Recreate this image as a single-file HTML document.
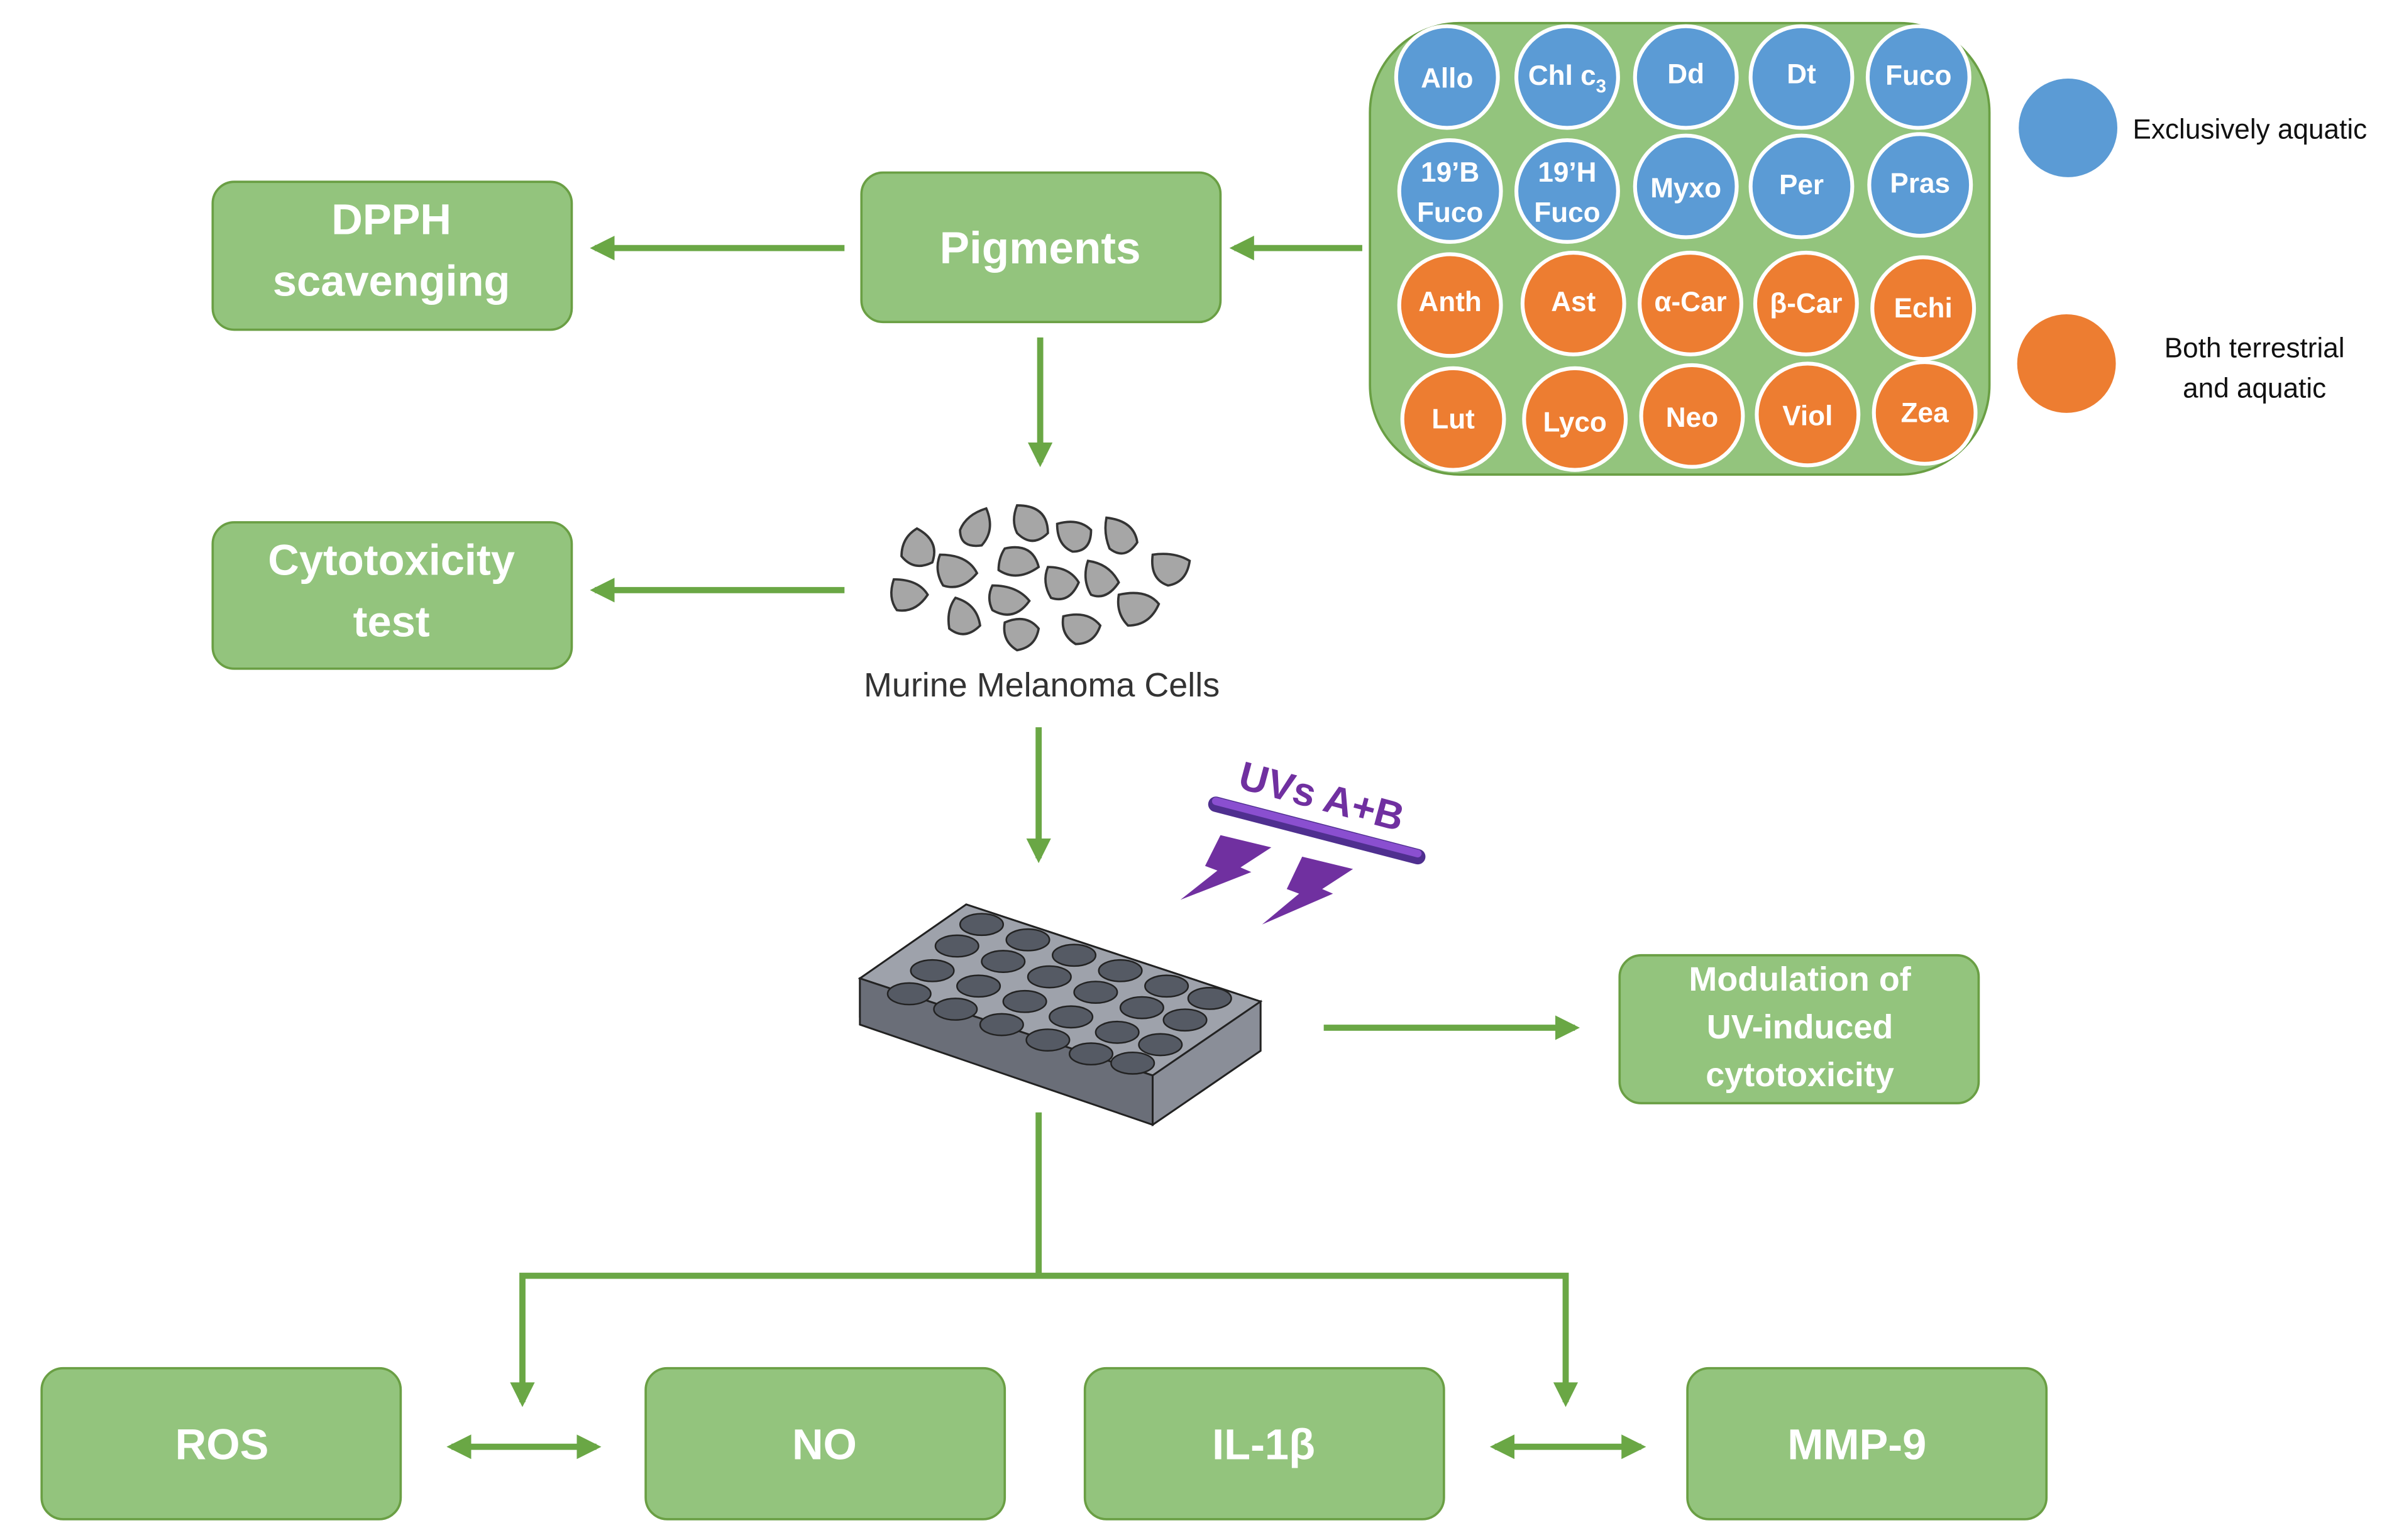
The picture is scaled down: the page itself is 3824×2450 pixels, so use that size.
<!DOCTYPE html>
<html><head><meta charset="utf-8"><style>
html,body{margin:0;padding:0;background:#fff;width:3824px;height:2450px;overflow:hidden}
svg{display:block}
text{font-family:"Liberation Sans","DejaVu Sans",sans-serif}
</style></head><body>
<svg width="3824" height="2450" viewBox="0 0 1560 999.5" xmlns="http://www.w3.org/2000/svg">
<defs>
<marker id="ah" viewBox="0 0 10 10" refX="8" refY="5" markerWidth="4" markerHeight="4" orient="auto-start-reverse"><path d="M0,0 L10,5 L0,10 z" fill="#6aa745"/></marker>
</defs>
<g fill="#93c47d" stroke="#6a9f44" stroke-width="1.5">
<rect x="138" y="118" width="233" height="96" rx="14"/>
<rect x="559" y="112" width="233" height="97" rx="14"/>
<rect x="138" y="339" width="233" height="95" rx="14"/>
<rect x="1051" y="620" width="233" height="96" rx="14"/>
<rect x="27" y="888" width="233" height="98" rx="14"/>
<rect x="419" y="888" width="233" height="98" rx="14"/>
<rect x="704" y="888" width="233" height="98" rx="14"/>
<rect x="1095" y="888" width="233" height="98" rx="14"/>
<rect x="889" y="15" width="402" height="293" rx="58"/>
</g>
<g fill="#fff" font-weight="bold" text-anchor="middle">
<text x="254" y="152" font-size="28">DPPH</text>
<text x="254" y="192" font-size="28">scavenging</text>
<text x="675" y="171" font-size="29">Pigments</text>
<text x="254" y="373" font-size="28">Cytotoxicity</text>
<text x="254" y="413" font-size="28">test</text>
<text x="1168" y="643" font-size="22">Modulation of</text>
<text x="1168" y="674" font-size="22">UV-induced</text>
<text x="1168" y="705" font-size="22">cytotoxicity</text>
<text x="144" y="947" font-size="28">ROS</text>
<text x="535" y="947" font-size="28">NO</text>
<text x="820" y="947" font-size="28">IL-1β</text>
<text x="1205" y="947" font-size="28">MMP-9</text>
</g>
<g stroke="#fff" stroke-width="2.5">
<g fill="#5b9bd5">
<circle cx="939" cy="50" r="33"/><circle cx="1017" cy="50" r="33"/><circle cx="1094" cy="50" r="33"/><circle cx="1169" cy="50" r="33"/><circle cx="1245" cy="50" r="33"/>
<circle cx="941" cy="124" r="33"/><circle cx="1017" cy="124" r="33"/><circle cx="1094" cy="121" r="33"/><circle cx="1169" cy="121" r="33"/><circle cx="1246" cy="120" r="33"/>
</g>
<g fill="#ed7d31">
<circle cx="941" cy="198" r="33"/><circle cx="1021" cy="197" r="33"/><circle cx="1097" cy="197" r="33"/><circle cx="1172" cy="197" r="33"/><circle cx="1248" cy="200" r="33"/>
<circle cx="943" cy="272" r="33"/><circle cx="1022" cy="272" r="33"/><circle cx="1098" cy="270" r="33"/><circle cx="1173" cy="269" r="33"/><circle cx="1249" cy="268" r="33"/>
</g>
</g>
<g fill="#fff" font-weight="bold" text-anchor="middle" font-size="18">
<text x="939" y="57">Allo</text><text x="1017" y="55">Chl c<tspan font-size="12" dy="5">3</tspan></text><text x="1094" y="54">Dd</text><text x="1169" y="54">Dt</text><text x="1245" y="55">Fuco</text>
<text x="941" y="118">19’B</text><text x="941" y="144">Fuco</text><text x="1017" y="118">19’H</text><text x="1017" y="144">Fuco</text>
<text x="1094" y="128">Myxo</text><text x="1169" y="126">Per</text><text x="1246" y="125">Pras</text>
<text x="941" y="202">Anth</text><text x="1021" y="202">Ast</text><text x="1097" y="202">α-Car</text><text x="1172" y="203">β-Car</text><text x="1248" y="206">Echi</text>
<text x="943" y="278">Lut</text><text x="1022" y="280">Lyco</text><text x="1098" y="277">Neo</text><text x="1173" y="276">Viol</text><text x="1249" y="274">Zea</text>
</g>
<circle cx="1342" cy="83" r="32" fill="#5b9bd5"/>
<circle cx="1341" cy="236" r="32" fill="#ed7d31"/>
<g font-size="18" fill="#111">
<text x="1384" y="90">Exclusively aquatic</text>
<text x="1463" y="232" text-anchor="middle">Both terrestrial</text>
<text x="1463" y="258" text-anchor="middle">and aquatic</text>
</g>
<g stroke="#6aa745" stroke-width="4" fill="none">
<line x1="548" y1="161" x2="386" y2="161" marker-end="url(#ah)"/>
<line x1="884" y1="161" x2="801" y2="161" marker-end="url(#ah)"/>
<line x1="675" y1="219" x2="675" y2="300" marker-end="url(#ah)"/>
<line x1="548" y1="383" x2="386" y2="383" marker-end="url(#ah)"/>
<line x1="674" y1="472" x2="674" y2="557" marker-end="url(#ah)"/>
<line x1="859" y1="667" x2="1022" y2="667" marker-end="url(#ah)"/>
<polyline points="674,722 674,828"/>
<polyline points="339,910 339,828 1016,828 1016,910" marker-start="url(#ah)" marker-end="url(#ah)"/>
<line x1="293" y1="939" x2="387" y2="939" marker-start="url(#ah)" marker-end="url(#ah)"/>
<line x1="970" y1="939" x2="1065" y2="939" marker-start="url(#ah)" marker-end="url(#ah)"/>
</g>
<g fill="#a6a6a6" stroke="#333" stroke-width="1.5">
<path d="M595,343 q15,8 10,22 q-12,6 -20,-4 q0,-12 10,-18z"/>
<path d="M640,330 q6,14 -3,24 q-14,2 -14,-10 q4,-10 17,-14z"/>
<path d="M660,328 q20,0 20,18 q-10,10 -20,0 q-4,-8 0,-18z"/>
<path d="M686,340 q14,-4 22,4 q0,14 -12,14 q-10,-4 -10,-18z"/>
<path d="M718,336 q18,2 20,16 q-8,12 -18,4 q-4,-10 -2,-20z"/>
<path d="M610,360 q18,0 24,12 q-10,12 -22,8 q-6,-10 -2,-20z"/>
<path d="M652,356 q18,-4 22,12 q-14,10 -26,2 q0,-8 4,-14z"/>
<path d="M680,368 q14,0 20,10 q-6,14 -18,10 q-6,-10 -2,-20z"/>
<path d="M706,364 q14,2 20,14 q-8,12 -18,8 q-6,-10 -2,-22z"/>
<path d="M748,360 q14,-2 24,4 q-2,14 -14,16 q-12,-4 -10,-20z"/>
<path d="M580,376 q16,0 22,10 q-8,12 -20,10 q-6,-8 -2,-20z"/>
<path d="M644,380 q16,0 24,10 q-10,14 -24,6 q-4,-8 0,-16z"/>
<path d="M620,388 q14,4 16,18 q-10,10 -20,2 q-2,-12 4,-20z"/>
<path d="M726,386 q18,-4 26,6 q-6,14 -20,14 q-8,-8 -6,-20z"/>
<path d="M652,404 q14,-6 22,4 q-2,12 -14,14 q-10,-6 -8,-18z"/>
<path d="M690,400 q16,-4 24,6 q-4,12 -16,12 q-10,-6 -8,-18z"/>
</g>
<text x="676" y="452" font-size="22" text-anchor="middle" fill="#333">Murine Melanoma Cells</text>
<g transform="rotate(15 855 515)"><text x="858" y="525" font-size="26" font-weight="bold" fill="#7030a0" text-anchor="middle">UVs A+B</text></g>
<line x1="789" y1="522" x2="920" y2="556" stroke="#4f2f8f" stroke-width="10" stroke-linecap="round"/>
<line x1="789" y1="520" x2="920" y2="554" stroke="#8a4fd0" stroke-width="5" stroke-linecap="round"/>
<path d="M792,542 L825,550 L805,563 L812,566 L766,584 L790,565 L782,562z" fill="#7030a0"/>
<path d="M845,556 L878,564 L858,577 L865,580 L819,600 L843,580 L835,577z" fill="#7030a0"/>
<g stroke="#222" stroke-width="1.2">
<path d="M558,660 L748,730 L818,682 L818,650 L627,587 L558,635z" fill="#7b7f8a"/>
<path d="M558,635 L627,587 L818,650 L748,698z" fill="#9ea2ab"/>
<path d="M558,635 L748,698 L748,730 L558,665z" fill="#6a6e78"/>
<path d="M748,698 L818,650 L818,682 L748,730z" fill="#8a8e98"/>
</g>
<g fill="#555a64" stroke="#222" stroke-width="1">
<ellipse cx="637" cy="600" rx="14" ry="7"/><ellipse cx="667" cy="610" rx="14" ry="7"/><ellipse cx="697" cy="620" rx="14" ry="7"/><ellipse cx="727" cy="630" rx="14" ry="7"/><ellipse cx="757" cy="640" rx="14" ry="7"/><ellipse cx="785" cy="648" rx="14" ry="7"/>
<ellipse cx="621" cy="614" rx="14" ry="7"/><ellipse cx="651" cy="624" rx="14" ry="7"/><ellipse cx="681" cy="634" rx="14" ry="7"/><ellipse cx="711" cy="644" rx="14" ry="7"/><ellipse cx="741" cy="654" rx="14" ry="7"/><ellipse cx="769" cy="662" rx="14" ry="7"/>
<ellipse cx="605" cy="630" rx="14" ry="7"/><ellipse cx="635" cy="640" rx="14" ry="7"/><ellipse cx="665" cy="650" rx="14" ry="7"/><ellipse cx="695" cy="660" rx="14" ry="7"/><ellipse cx="725" cy="670" rx="14" ry="7"/><ellipse cx="753" cy="678" rx="14" ry="7"/>
<ellipse cx="590" cy="645" rx="14" ry="7"/><ellipse cx="620" cy="655" rx="14" ry="7"/><ellipse cx="650" cy="665" rx="14" ry="7"/><ellipse cx="680" cy="675" rx="14" ry="7"/><ellipse cx="708" cy="684" rx="14" ry="7"/><ellipse cx="735" cy="690" rx="14" ry="7"/>
</g>
</svg>
</body></html>
